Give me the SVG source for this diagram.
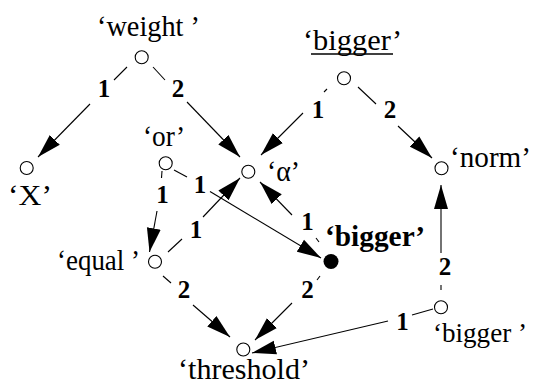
<svg xmlns="http://www.w3.org/2000/svg" width="535" height="385" viewBox="0 0 535 385">
<style>
.n{fill:#fff;stroke:#000;stroke-width:1.1}
.f{fill:#000}
.t{font-family:"Liberation Serif","Times New Roman",serif;font-size:30px;fill:#000}
.b{font-weight:bold}
.e{font-family:"Liberation Serif","Times New Roman",serif;font-size:25px;font-weight:bold;fill:#000;text-anchor:middle}
.l{stroke:#000;stroke-width:1.1;fill:none}
</style>
<defs>
<marker id="a" markerUnits="userSpaceOnUse" markerWidth="25" markerHeight="15" refX="24" refY="7.5" orient="auto">
<path d="M0,0.5 L24,7.5 L0,14.5 z" fill="#000"/>
</marker>
</defs>
<g id="connectors">
<line class="l" x1="127" y1="67" x2="114" y2="80"/>
<line class="l" x1="90" y1="104" x2="38" y2="157" marker-end="url(#a)"/>
<text class="e" x="104" y="97">1</text>
<line class="l" x1="153" y1="67" x2="165" y2="80"/>
<line class="l" x1="187" y1="102" x2="240" y2="157" marker-end="url(#a)"/>
<text class="e" x="178" y="97">2</text>
<line class="l" x1="327" y1="89" x2="324" y2="92"/>
<line class="l" x1="303" y1="113" x2="261" y2="155" marker-end="url(#a)"/>
<text class="e" x="318" y="118">1</text>
<line class="l" x1="358" y1="87" x2="376" y2="104"/>
<line class="l" x1="398" y1="126" x2="432" y2="158" marker-end="url(#a)"/>
<text class="e" x="390" y="118">2</text>
<line class="l" x1="162" y1="171" x2="161.5" y2="178"/>
<line class="l" x1="157" y1="211" x2="149.5" y2="252" marker-end="url(#a)"/>
<text class="e" x="162.5" y="203">1</text>
<line class="l" x1="174" y1="170" x2="187" y2="177"/>
<line class="l" x1="210" y1="191.5" x2="321" y2="258" marker-end="url(#a)"/>
<text class="e" x="200" y="193">1</text>
<line class="l" x1="168" y1="252" x2="182" y2="239"/>
<line class="l" x1="203" y1="217" x2="240" y2="178" marker-end="url(#a)"/>
<text class="e" x="196" y="238">1</text>
<line class="l" x1="319" y1="242" x2="316" y2="238"/>
<line class="l" x1="292" y1="215" x2="260" y2="182" marker-end="url(#a)"/>
<text class="e" x="307.5" y="230">1</text>
<line class="l" x1="320" y1="276" x2="317" y2="280"/>
<line class="l" x1="292" y1="303" x2="255" y2="340" marker-end="url(#a)"/>
<text class="e" x="307.5" y="298">2</text>
<line class="l" x1="163" y1="276" x2="171" y2="283"/>
<line class="l" x1="193" y1="305" x2="230" y2="337" marker-end="url(#a)"/>
<text class="e" x="184" y="298">2</text>
<line class="l" x1="433" y1="309" x2="412" y2="315"/>
<line class="l" x1="388" y1="321" x2="252" y2="353" marker-end="url(#a)"/>
<text class="e" x="402.5" y="330">1</text>
<line class="l" x1="441" y1="290" x2="441" y2="285"/>
<line class="l" x1="441" y1="253" x2="441" y2="185" marker-end="url(#a)"/>
<text class="e" x="445" y="275">2</text>
</g>
<g id="weight"><circle class="n" cx="141.7" cy="57.3" r="6.5"/><text class="t" x="97" y="36" textLength="103" lengthAdjust="spacingAndGlyphs">‘weight ’</text></g>
<g id="bigger-top"><circle class="n" cx="344" cy="78.3" r="6.5"/><text class="t" x="303" y="50" textLength="99" lengthAdjust="spacingAndGlyphs">‘bigger’</text><line x1="311" y1="54" x2="393" y2="54" stroke="#000" stroke-width="1.5"/></g>
<g id="X"><circle class="n" cx="26.7" cy="168" r="6.5"/><text class="t" x="8" y="205" textLength="44" lengthAdjust="spacingAndGlyphs">‘X’</text></g>
<g id="or"><circle class="n" cx="165.7" cy="163.3" r="6.5"/><text class="t" x="143" y="146" textLength="42" lengthAdjust="spacingAndGlyphs">‘or’</text></g>
<g id="alpha"><circle class="n" cx="248.3" cy="171.7" r="6.5"/><text class="t" x="267" y="181" textLength="33" lengthAdjust="spacingAndGlyphs">‘α’</text></g>
<g id="norm"><circle class="n" cx="441.5" cy="168.3" r="6.5"/><text class="t" x="450" y="167" textLength="81" lengthAdjust="spacingAndGlyphs">‘norm’</text></g>
<g id="equal"><circle class="n" cx="155" cy="261.7" r="6.5"/><text class="t" x="57" y="270" textLength="83" lengthAdjust="spacingAndGlyphs">‘equal ’</text></g>
<g id="bigger-filled"><circle class="f" cx="331" cy="261.5" r="7.5"/><text class="t b" x="325" y="246" textLength="100" lengthAdjust="spacingAndGlyphs">‘bigger’</text></g>
<g id="threshold"><circle class="n" cx="243.3" cy="349.5" r="6.5"/><text class="t" x="178" y="379" textLength="132" lengthAdjust="spacingAndGlyphs">‘threshold’</text></g>
<g id="bigger-br"><circle class="n" cx="441" cy="307.3" r="6.5"/><text class="t" x="433" y="341.5" font-size="27.5" style="font-size:27.5px" textLength="94" lengthAdjust="spacingAndGlyphs">‘bigger ’</text></g>
</svg>
